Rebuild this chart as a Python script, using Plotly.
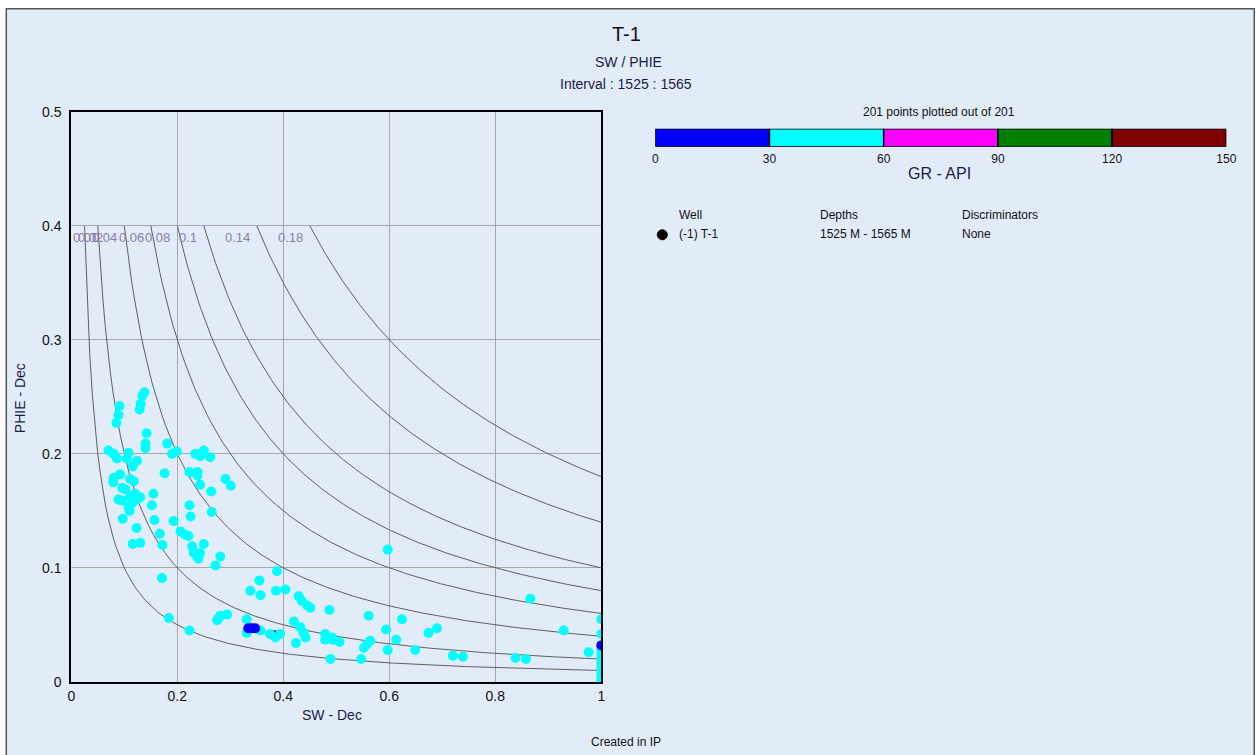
import numpy as np
import plotly.graph_objects as go

W, H = 1272, 766
# observed page -> picture mapping: pic = S * page + T
SX, TX = 0.989, 3.7
SY, TY = 0.979, 7.2

# ---------------- data ----------------
gr_edges = [0, 30, 60, 90, 120, 150]
gr_colors = ["#0000FF", "#00FFFF", "#FF00FF", "#008000", "#800000"]

sw_under = [0.383]
phie_under = [0.041]
gr_under = [20]

sw_cyan = [0.131, 0.134, 0.138, 0.091, 0.129, 0.089, 0.085, 0.142, 0.140, 0.140,
           0.181, 0.070, 0.080, 0.086, 0.108, 0.105, 0.124, 0.116, 0.190, 0.199,
           0.234, 0.250, 0.243, 0.262, 0.176, 0.223, 0.238, 0.238, 0.243, 0.291,
           0.301, 0.264, 0.080, 0.079, 0.092, 0.096, 0.102, 0.111, 0.118, 0.089,
           0.096, 0.111, 0.118, 0.124, 0.115, 0.108, 0.121, 0.130, 0.110, 0.097,
           0.123, 0.116, 0.130, 0.155, 0.152, 0.157, 0.193, 0.167, 0.172, 0.206,
           0.215, 0.221, 0.223, 0.225, 0.228, 0.231, 0.237, 0.243, 0.250, 0.240,
           0.265, 0.281, 0.272, 0.171,
           0.184, 0.223, 0.275, 0.281, 0.294, 0.278, 0.331, 0.331, 0.357, 0.375,
           0.385, 0.394, 0.355, 0.338, 0.357, 0.386, 0.404, 0.388, 0.429, 0.435,
           0.445, 0.451, 0.420, 0.432, 0.438, 0.442, 0.424, 0.487, 0.479, 0.479,
           0.494, 0.506, 0.492, 0.489, 0.597, 0.561, 0.594, 0.624, 0.613, 0.552,
           0.558, 0.564, 0.597, 0.547, 0.674, 0.690, 0.649, 0.720, 0.739, 0.866,
           0.838, 0.858, 0.929, 0.976,
           1.0, 1.0, 1.0, 1.0, 1.0, 1.0, 1.0, 1.0, 1.0, 1.0]
phie_cyan = [0.244, 0.251, 0.254, 0.242, 0.239, 0.234, 0.227, 0.218, 0.209, 0.205,
             0.209, 0.203, 0.200, 0.196, 0.201, 0.196, 0.194, 0.189, 0.200, 0.202,
             0.200, 0.203, 0.198, 0.197, 0.183, 0.184, 0.184, 0.181, 0.173, 0.178,
             0.172, 0.167, 0.179, 0.175, 0.182, 0.170, 0.169, 0.178, 0.176, 0.160,
             0.159, 0.163, 0.162, 0.160, 0.157, 0.153, 0.165, 0.162, 0.150, 0.143,
             0.135, 0.121, 0.122, 0.165, 0.155, 0.142, 0.141, 0.130, 0.120, 0.132,
             0.129, 0.128, 0.155, 0.145, 0.119, 0.113, 0.110, 0.113, 0.121, 0.108,
             0.149, 0.110, 0.102, 0.091,
             0.056, 0.045, 0.054, 0.058, 0.059, 0.056, 0.055, 0.043, 0.045, 0.042,
             0.039, 0.042, 0.089, 0.080, 0.076, 0.080, 0.081, 0.097, 0.075, 0.071,
             0.067, 0.065, 0.053, 0.048, 0.043, 0.039, 0.034, 0.063, 0.042, 0.037,
             0.037, 0.035, 0.039, 0.020, 0.116, 0.058, 0.046, 0.055, 0.037, 0.030,
             0.033, 0.036, 0.028, 0.020, 0.043, 0.047, 0.028, 0.023, 0.022, 0.073,
             0.021, 0.020, 0.045, 0.026,
             0.055, 0.042, 0.028, 0.024, 0.020, 0.016, 0.012, 0.008, 0.004, 0.0]
gr_cyan = [45] * len(sw_cyan)

sw_blue = [0.334, 0.340, 0.347, 1.0]
phie_blue = [0.047, 0.047, 0.047, 0.032]
gr_blue = [20, 20, 20, 20]

bvw_values = [0.01, 0.02, 0.04, 0.06, 0.08, 0.1, 0.14, 0.18]
bvw_labels = ["0.01", "0.02", "0.04", "0.06", "0.08", "0.1", "0.14", "0.18"]
phie_top = 0.4

x_ticks = [0, 0.2, 0.4, 0.6, 0.8, 1.0]
x_ticktext = ["0", "0.2", "0.4", "0.6", "0.8", "1"]
y_ticks = [0, 0.1, 0.2, 0.3, 0.4, 0.5]
y_ticktext = ["0", "0.1", "0.2", "0.3", "0.4", "0.5"]

# ---------------- layout helpers (target picture pixel -> paper) ----------------
def px_x(p):
    return ((p - TX) / SX) / W

def px_y(p):
    return (H - (p - TY) / SY) / H

FONT = "Liberation Sans, Arial, sans-serif"
NAVY = "#1b1b4b"

fig = go.Figure()

for c in bvw_values:
    sw_line = np.linspace(c / phie_top, 1.0, 200)
    fig.add_trace(go.Scatter(x=sw_line, y=c / sw_line, mode="lines",
                             line=dict(color="#5f5f5f", width=1),
                             hoverinfo="skip", showlegend=False))

cscale = []
for i, col in enumerate(gr_colors):
    cscale.append([gr_edges[i] / 150, col])
    cscale.append([gr_edges[i + 1] / 150, col])

sw_all = sw_under + sw_cyan + sw_blue
phie_all = phie_under + phie_cyan + phie_blue
gr_all = gr_under + gr_cyan + gr_blue
fig.add_trace(go.Scatter(
    x=sw_all, y=phie_all, mode="markers",
    marker=dict(size=10, color=gr_all, colorscale=cscale, cmin=0, cmax=150,
                showscale=False, line=dict(width=0)),
    cliponaxis=True, showlegend=False))

fig.add_trace(go.Bar(
    x=[gr_edges[i + 1] - gr_edges[i] for i in range(5)],
    base=gr_edges[:5], y=[0] * 5, orientation="h", width=1,
    marker=dict(color=gr_colors, line=dict(color="black", width=1.5)),
    xaxis="x2", yaxis="y2", hoverinfo="skip", showlegend=False))

annotations = []
for c, lab in zip(bvw_values, bvw_labels):
    xr = c / phie_top
    if xr < 0.09:
        annotations.append(dict(x=0, y=phie_top, xref="x", yref="y", text=lab,
                                showarrow=False, xanchor="left", yanchor="top",
                                xshift=(0 if c < 0.015 else 5), yshift=-2,
                                font=dict(family=FONT, size=13, color="#8a7fa8")))
    else:
        annotations.append(dict(x=xr, y=phie_top, xref="x", yref="y", text=lab,
                                showarrow=False, xanchor="right", yanchor="top",
                                xshift=-5, yshift=-2,
                                font=dict(family=FONT, size=13, color="#8a7fa8")))

def ptext(x, y, text, size, color="#111111", xanchor="center", angle=0):
    annotations.append(dict(x=px_x(x), y=px_y(y), xref="paper", yref="paper",
                            text=text, showarrow=False, xanchor=xanchor,
                            yanchor="middle", textangle=angle,
                            font=dict(family=FONT, size=size, color=color)))

ptext(626, 33, "T-1", 20, "#111111")
ptext(628, 61, "SW / PHIE", 14, NAVY)
ptext(626, 83, "Interval : 1525 : 1565", 14, NAVY)
ptext(332, 714, "SW - Dec", 14, NAVY)
ptext(20, 397, "PHIE - Dec", 14, NAVY, angle=-90)
ptext(626, 741, "Created in IP", 12, "#111111")
ptext(939, 111, "201 points plotted out of 201", 12, "#111111")
ptext(939, 173, "GR - API", 16, NAVY)
ptext(677, 214, "Well", 12, "#111111", xanchor="left")
ptext(818, 214, "Depths", 12, "#111111", xanchor="left")
ptext(960, 214, "Discriminators", 12, "#111111", xanchor="left")
ptext(677, 233, "(-1) T-1", 12, "#111111", xanchor="left")
ptext(818, 233, "1525 M - 1565 M", 12, "#111111", xanchor="left")
ptext(960, 233, "None", 12, "#111111", xanchor="left")

shapes = [
    dict(type="rect", xref="paper", yref="paper", layer="below",
         x0=px_x(6), x1=px_x(1254), y0=-0.05, y1=px_y(8),
         fillcolor="#E1ECF8", line=dict(color="#555555", width=1.5)),
    dict(type="circle", xref="paper", yref="paper",
         x0=px_x(657), x1=px_x(667), y0=px_y(239), y1=px_y(229),
         fillcolor="black", line=dict(color="black", width=1)),
]

fig.update_layout(
    width=W, height=H, margin=dict(l=0, r=0, t=0, b=0),
    paper_bgcolor="white", plot_bgcolor="white",
    annotations=annotations, shapes=shapes, showlegend=False,
    xaxis=dict(domain=[px_x(71), px_x(601)], range=[0, 1],
               tickvals=x_ticks, ticktext=x_ticktext, ticks="",
               showgrid=True, gridcolor="#a8a8a8", gridwidth=1,
               zeroline=False, showline=True, linecolor="black", linewidth=2,
               mirror=True, tickfont=dict(family=FONT, size=14, color="#111111"),
               fixedrange=True),
    yaxis=dict(domain=[px_y(681), px_y(111)], range=[0, 0.5],
               tickvals=y_ticks, ticktext=y_ticktext, ticks="",
               ticklabelstandoff=5,
               showgrid=True, gridcolor="#a8a8a8", gridwidth=1,
               zeroline=False, showline=True, linecolor="black", linewidth=2,
               mirror=True, tickfont=dict(family=FONT, size=14, color="#111111"),
               fixedrange=True),
    xaxis2=dict(domain=[px_x(655), px_x(1226)], range=[0, 150], anchor="y2",
                tickvals=gr_edges, ticks="", ticklabelstandoff=3,
                showgrid=False, zeroline=False,
                showline=False, tickfont=dict(family=FONT, size=12, color="#111111"),
                fixedrange=True),
    yaxis2=dict(domain=[px_y(146), px_y(128)], range=[-0.5, 0.5], anchor="x2",
                visible=False, fixedrange=True),
)

fig.write_html("out.html")
